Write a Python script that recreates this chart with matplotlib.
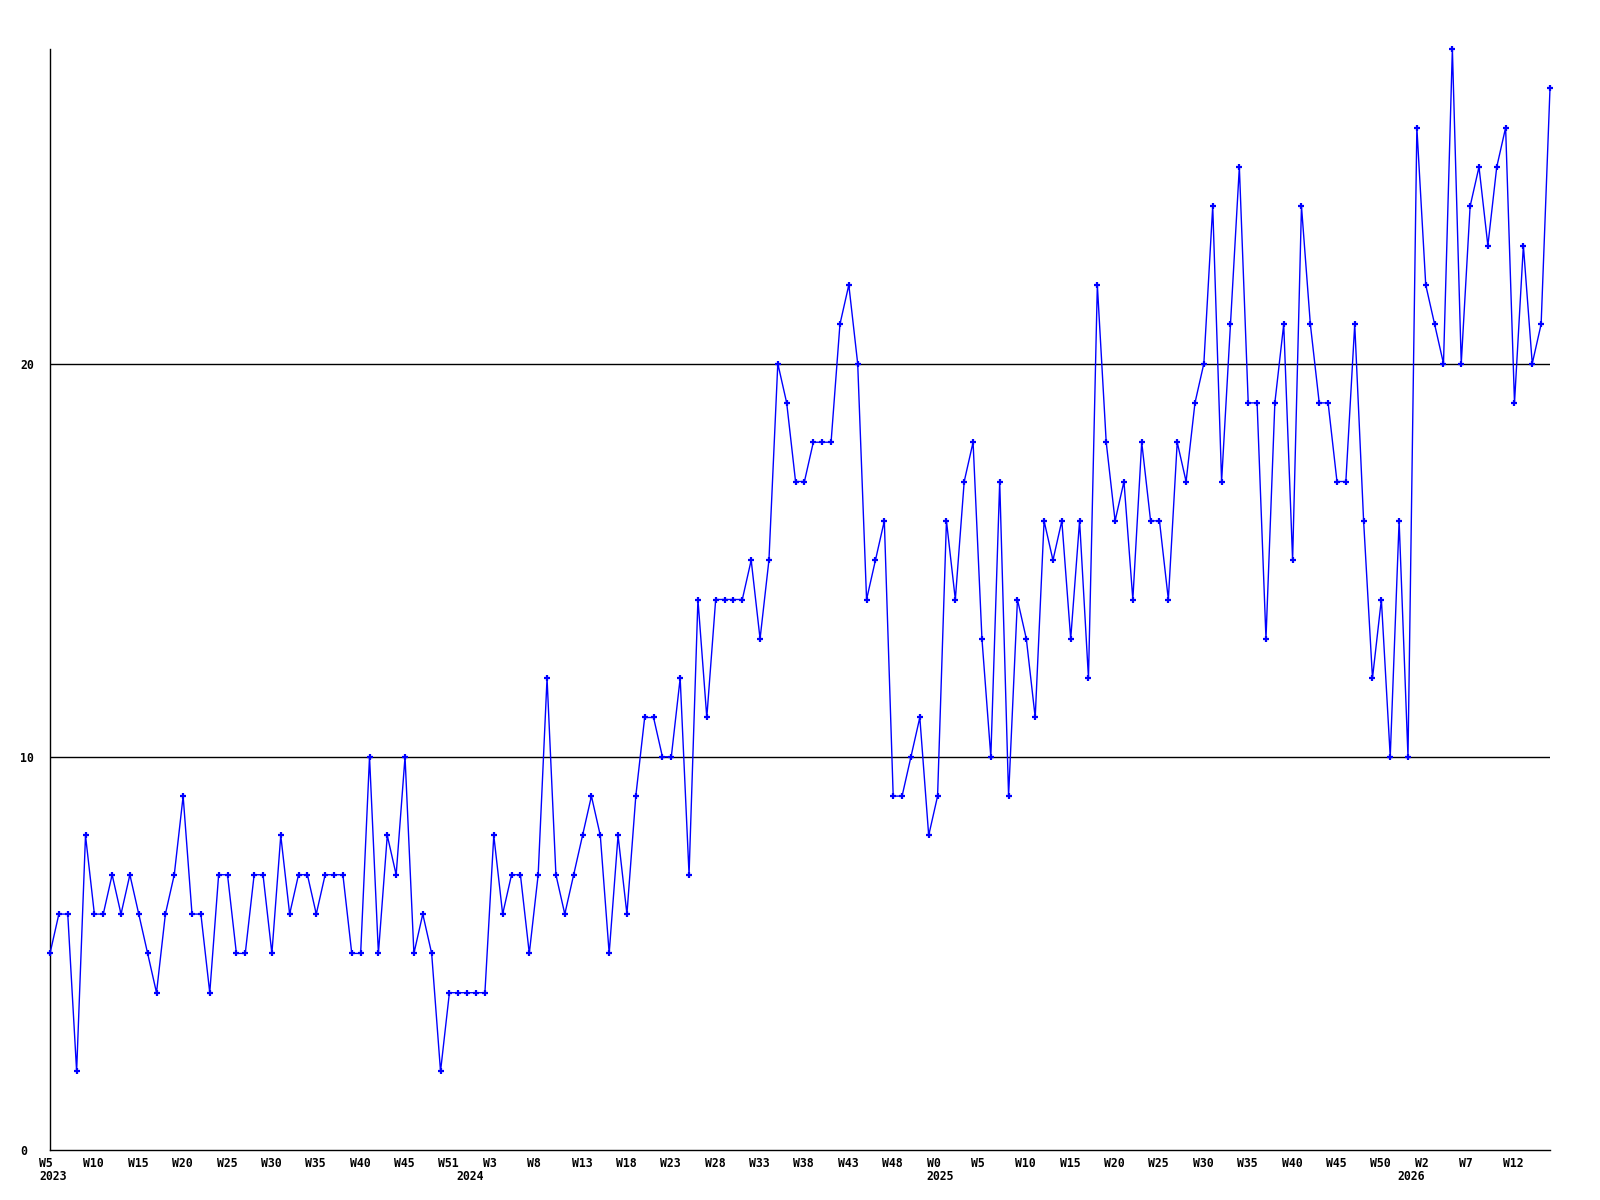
import matplotlib
matplotlib.use("Agg")
import matplotlib.pyplot as plt
import matplotlib.transforms as mtransforms

# ==============================
# DATA (weekly counts)
# ==============================

values = [
    5, 6, 6, 2, 8, 6, 6, 7, 6, 7,
    6, 5, 4, 6, 7, 9, 6, 6, 4, 7,
    7, 5, 5, 7, 7, 5, 8, 6, 7, 7,
    6, 7, 7, 7, 5, 5, 10, 5, 8, 7,
    10, 5, 6, 5, 2, 4, 4, 4, 4, 4,
    8, 6, 7, 7, 5, 7, 12, 7, 6, 7,
    8, 9, 8, 5, 8, 6, 9, 11, 11, 10,
    10, 12, 7, 14, 11, 14, 14, 14, 14, 15,
    13, 15, 20, 19, 17, 17, 18, 18, 18, 21,
    22, 20, 14, 15, 16, 9, 9, 10, 11, 8,
    9, 16, 14, 17, 18, 13, 10, 17, 9, 14,
    13, 11, 16, 15, 16, 13, 16, 12, 22, 18,
    16, 17, 14, 18, 16, 16, 14, 18, 17, 19,
    20, 24, 17, 21, 25, 19, 19, 13, 19, 21,
    15, 24, 21, 19, 19, 17, 17, 21, 16, 12,
    14, 10, 16, 10, 26, 22, 21, 20, 28, 20,
    24, 25, 23, 25, 26, 19, 23, 20, 21, 27,
]

week_labels = [
    "W5", "W10", "W15", "W20", "W25", "W30", "W35", "W40", "W45", "W51",
    "W3", "W8", "W13", "W18", "W23", "W28", "W33", "W38", "W43", "W48",
    "W0", "W5", "W10", "W15", "W20", "W25", "W30", "W35", "W40", "W45",
    "W50", "W2", "W7", "W12",
]
week_label_idx = list(range(0, 5 * len(week_labels), 5))

years = ["2023", "2024", "2025", "2026"]
year_idx = [0, 47, 100, 153]

y_ticks = [0, 10, 20]

# ==============================
# PLOT
# ==============================

fig = plt.figure(figsize=(16, 12), dpi=100)
ax = fig.add_axes([50 / 1600, 50 / 1200, 1500 / 1600, 1101 / 1200])

x = list(range(len(values)))
ax.plot(x, values, color="#0000ff", linewidth=1.0, marker="+",
        markersize=5, markeredgewidth=1.6, clip_on=False, zorder=3)

for y in [10, 20]:
    ax.axhline(y, color="black", linewidth=1.0, zorder=2)

ax.set_xlim(0, len(values) - 1)
ax.set_ylim(0, max(values))

for side in ["top", "right"]:
    ax.spines[side].set_visible(False)
for side in ["left", "bottom"]:
    ax.spines[side].set_color("black")
    ax.spines[side].set_linewidth(1.0)

font = dict(family="DejaVu Sans Mono", size=8.3, weight="bold")

# y labels are left aligned at a fixed column
ax.set_yticks(y_ticks)
ax.set_yticklabels([str(v) for v in y_ticks], ha="left", **font)
ax.tick_params(axis="y", length=0, pad=21.6)

# x labels start a few pixels left of their point
shift = mtransforms.ScaledTranslation(-11 / 100, 0, fig.dpi_scale_trans)
ax.set_xticks(week_label_idx)
ax.set_xticklabels(week_labels, ha="left", **font)
ax.tick_params(axis="x", length=0, pad=5)
for lbl in ax.get_xticklabels():
    lbl.set_transform(lbl.get_transform() + shift)

trans = mtransforms.blended_transform_factory(ax.transData, ax.transAxes) + shift
for idx, yr in zip(year_idx, years):
    ax.text(idx, -27 / 1101, yr, transform=trans, ha="left", va="center", **font)

fig.savefig("out.png", dpi=100)
